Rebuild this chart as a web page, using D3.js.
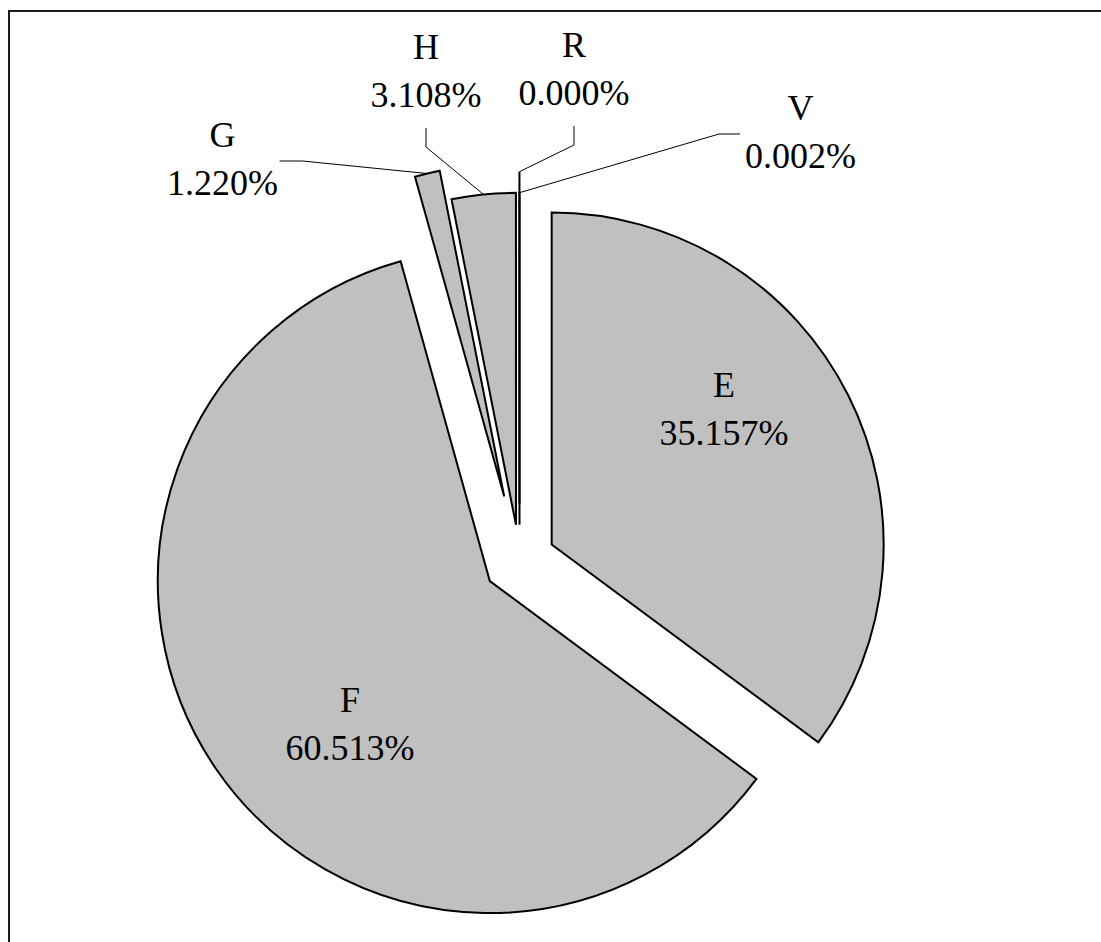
<!DOCTYPE html>
<html>
<head>
<meta charset="utf-8">
<script src="https://cdn.jsdelivr.net/npm/d3@7/dist/d3.min.js"></script>
<style>
  html, body { margin: 0; padding: 0; background: #fff; }
  svg { display: block; }
</style>
</head>
<body>
<div id="chart"></div>
<script>
// ---- data ----
const categories = ["E", "F", "G", "H", "R", "V"];
const values = [35.157, 60.513, 1.220, 3.108, 0.000, 0.002];
const valueLabels = ["35.157%", "60.513%", "1.220%", "3.108%", "0.000%", "0.002%"];

// ---- layout / style (not data) ----
const explode = [36, 36, 66, 36, 57, 36];
// label anchor: x centre, y baseline of category line; leader style
const labelPos = [
  { x: 724, y: 397, leader: "none" },
  { x: 350, y: 712, leader: "none" },
  { x: 222.5, y: 147, leader: "right" },
  { x: 426, y: 59, leader: "down" },
  { x: 574, y: 57, leader: "down" },
  { x: 800.5, y: 120, leader: "left" }
];
const lineGap = 48;

const W = 1101, H = 942;
const cx = 519.5, cy = 560.7, R = 332;

const svg = d3.select("#chart").append("svg")
  .attr("width", W).attr("height", H);

// frame
svg.append("rect")
  .attr("x", 9).attr("y", 11)
  .attr("width", 1200).attr("height", 1000)
  .attr("fill", "none").attr("stroke", "#1a1a1a").attr("stroke-width", 2);

const pie = d3.pie().sort(null).value(d => d);
const arcs = pie(values);
const arc = d3.arc().innerRadius(0).outerRadius(R);

const apex = arcs.map((a, i) => {
  const m = (a.startAngle + a.endAngle) / 2;
  return [cx + explode[i] * Math.sin(m), cy - explode[i] * Math.cos(m), m];
});

const g = svg.append("g");
g.selectAll("path.slice").data(arcs).join("path")
  .attr("class", "slice")
  .attr("transform", (d, i) => `translate(${apex[i][0]},${apex[i][1]})`)
  .attr("d", arc)
  .attr("fill", "#c0c0c0")
  .attr("stroke", "#000")
  .attr("stroke-width", 2)
  .attr("stroke-linejoin", "miter")
  .attr("stroke-miterlimit", 4);

// leader lines
const line = d3.line();
arcs.forEach((a, i) => {
  const lp = labelPos[i];
  if (lp.leader === "none") return;
  const end = [apex[i][0] + R * Math.sin(apex[i][2]), apex[i][1] - R * Math.cos(apex[i][2])];
  let pts;
  if (lp.leader === "down") {
    const y0 = lp.y + lineGap + 21;
    pts = [[lp.x, y0], [lp.x, y0 + 19], end];
  } else if (lp.leader === "right") {
    const x0 = lp.x + 57, y0 = lp.y + 14;
    pts = [[x0, y0], [x0 + 23, y0], end];
  } else {
    const x0 = lp.x - 60.5, y0 = lp.y + 14;
    pts = [[x0, y0], [x0 - 21, y0], end];
  }
  svg.append("path")
    .attr("d", line(pts))
    .attr("fill", "none")
    .attr("stroke", "#000")
    .attr("stroke-width", 1);
});

// labels
const lab = svg.append("g")
  .attr("font-family", "'Liberation Serif', 'Times New Roman', serif")
  .attr("font-size", 36)
  .attr("fill", "#000")
  .attr("text-anchor", "middle");
arcs.forEach((a, i) => {
  const lp = labelPos[i];
  const t = lab.append("text").attr("x", lp.x).attr("y", lp.y);
  t.append("tspan").attr("x", lp.x).attr("y", lp.y).text(categories[i]);
  t.append("tspan").attr("x", lp.x).attr("y", lp.y + lineGap).text(valueLabels[i]);
});
</script>
</body>
</html>
